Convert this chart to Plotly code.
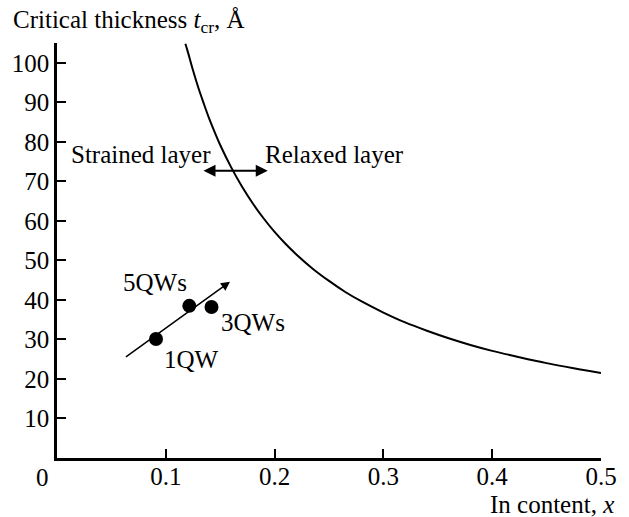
import plotly.graph_objects as go

# Critical-thickness curve
curve_x = [0.118, 0.12, 0.125, 0.13, 0.135, 0.14, 0.145, 0.15, 0.16, 0.17, 0.18, 0.19, 0.20, 0.21, 0.22, 0.235,
           0.25, 0.265, 0.28, 0.30, 0.32, 0.34, 0.36, 0.38, 0.40, 0.425, 0.45, 0.475, 0.50]
curve_y = [104.8, 103.0, 98.1, 93.6, 89.6, 85.8, 82.4, 79.2, 73.6, 68.7, 64.4, 60.6, 57.2, 54.2, 51.5, 47.9,
           44.8, 42.0, 39.6, 36.8, 34.3, 32.2, 30.3, 28.6, 27.1, 25.5, 24.0, 22.7, 21.5]

# Sample points
pt_x = [0.091, 0.1216, 0.142]
pt_y = [30.1, 38.5, 38.2]
pt_labels = ["1QW", "5QWs", "3QWs"]

x_ticks = [0.1, 0.2, 0.3, 0.4, 0.5]
x_ticktext = ["0.1", "0.2", "0.3", "0.4", "0.5"]
y_ticks = [10, 20, 30, 40, 50, 60, 70, 80, 90, 100]

FONT = "Liberation Serif"
FS = 25

# plot-area pixel geometry, used to place paper-referenced texts
PL, PR, PT, PB = 55, 610, 43, 458


def px2paper(px, py):
    return (px - PL) / (PR - PL), (PB - py) / (PB - PT)


fig = go.Figure()
fig.add_trace(go.Scatter(x=curve_x, y=curve_y, mode="lines", line_shape="spline",
                         line=dict(color="black", width=2), showlegend=False))
fig.add_trace(go.Scatter(x=pt_x, y=pt_y, mode="markers",
                         marker=dict(color="black", size=14), showlegend=False))

ann = []
# trend arrow
ann.append(dict(x=0.159, y=44.6, ax=0.062, ay=25.3, xref="x", yref="y", axref="x", ayref="y",
                showarrow=True, arrowhead=2, arrowsize=1.2, arrowwidth=1.5, arrowcolor="black", text=""))
# double arrow
ann.append(dict(x=0.1937, y=72.7, ax=0.1333, ay=72.7, xref="x", yref="y", axref="x", ayref="y",
                showarrow=True, arrowhead=2, startarrowhead=2, arrowside="end+start",
                arrowsize=1.2, startarrowsize=1.2, arrowwidth=2, arrowcolor="black", text=""))
# point labels
lab_pos = {"1QW": (0.1234, 24.8), "5QWs": (0.090, 44.3), "3QWs": (0.1797, 34.4)}
for lab in pt_labels:
    lx, ly = lab_pos[lab]
    ann.append(dict(x=lx, y=ly, xref="x", yref="y", text=lab, showarrow=False,
                    font=dict(family=FONT, size=FS, color="black")))
ann.append(dict(x=0.0775, y=76.7, xref="x", yref="y", text="Strained layer", showarrow=False,
                font=dict(family=FONT, size=FS, color="black")))
ann.append(dict(x=0.2554, y=76.7, xref="x", yref="y", text="Relaxed layer", showarrow=False,
                font=dict(family=FONT, size=FS, color="black")))
# axis titles
tx, ty = px2paper(8, 22)
ann.append(dict(x=tx, y=ty, xref="paper", yref="paper", xanchor="left", yanchor="middle",
                text="Critical thickness <i>t</i><sub>cr</sub>, Å", showarrow=False,
                font=dict(family=FONT, size=FS, color="black")))
tx, ty = px2paper(625, 504)
ann.append(dict(x=tx, y=ty, xref="paper", yref="paper", xanchor="right", yanchor="middle",
                text="In content, <i>x</i>", showarrow=False,
                font=dict(family=FONT, size=FS, color="black")))
# origin label
tx, ty = px2paper(40, 477)
ann.append(dict(x=tx, y=ty, xref="paper", yref="paper", xanchor="center", yanchor="middle",
                text="0", showarrow=False, font=dict(family=FONT, size=FS, color="black")))

fig.update_layout(
    width=629, height=517,
    margin=dict(l=PL, r=629 - PR, t=PT, b=517 - PB),
    paper_bgcolor="white", plot_bgcolor="white",
    annotations=ann,
    font=dict(family=FONT, size=FS, color="black"),
    xaxis=dict(range=[0, 0.5], tickvals=x_ticks, ticktext=x_ticktext, ticks="inside", ticklen=9,
               tickwidth=2, tickcolor="black", showline=True, linecolor="black", linewidth=2.5,
               showgrid=False, zeroline=False, fixedrange=True, ticklabelstandoff=-6),
    yaxis=dict(range=[0, 105], tickvals=y_ticks, ticks="inside", ticklen=9, tickwidth=2,
               tickcolor="black", showline=True, linecolor="black", linewidth=2.5,
               showgrid=False, zeroline=False, fixedrange=True),
)

fig.write_html("out.html")
